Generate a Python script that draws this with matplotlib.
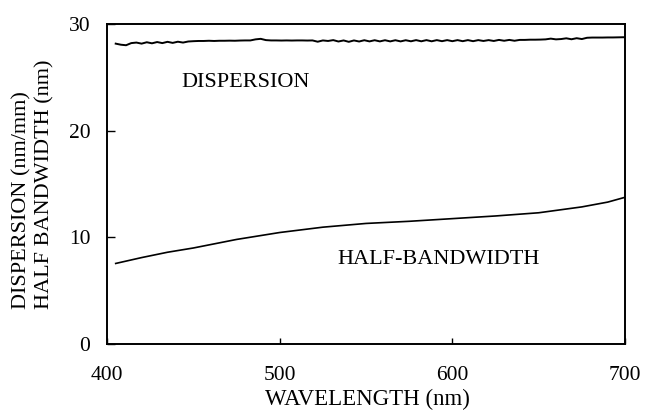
import numpy as np
import matplotlib
matplotlib.use("Agg")
import matplotlib.pyplot as plt

plt.rcParams['font.family'] = ['Liberation Serif', 'DejaVu Serif']

# Dispersion (nm/mm), read every 3 nm from 405 nm
disp_wl = np.arange(405, 700, 3)
disp_val = [
    28.15, 28.05, 28.00, 28.20, 28.25, 28.15, 28.28, 28.18, 28.30, 28.20,
    28.32, 28.22, 28.33, 28.25, 28.35, 28.38, 28.40, 28.40, 28.42, 28.40,
    28.42, 28.42, 28.43, 28.42, 28.44, 28.45, 28.45, 28.55, 28.60, 28.48,
    28.45, 28.45, 28.44, 28.45, 28.44, 28.45, 28.45, 28.44, 28.45, 28.33,
    28.45, 28.40, 28.48, 28.35, 28.45, 28.32, 28.45, 28.35, 28.47, 28.36,
    28.47, 28.36, 28.47, 28.36, 28.47, 28.36, 28.47, 28.37, 28.48, 28.37,
    28.48, 28.37, 28.48, 28.38, 28.48, 28.38, 28.48, 28.38, 28.48, 28.38,
    28.48, 28.40, 28.48, 28.40, 28.50, 28.42, 28.50, 28.42, 28.50, 28.50,
    28.52, 28.52, 28.53, 28.55, 28.62, 28.55, 28.58, 28.65, 28.56, 28.66,
    28.58, 28.70, 28.72, 28.72, 28.72, 28.73, 28.73, 28.74, 28.75,
]
disp_wl = list(disp_wl) + [700]
disp_val = disp_val + [28.75]

# Half bandwidth (nm)
hb_wl = [405, 420, 435, 450, 475, 500, 525, 550, 575, 600, 625, 650, 675, 690, 700]
hb_val = [7.55, 8.1, 8.6, 9.0, 9.8, 10.45, 10.95, 11.3, 11.5, 11.75, 12.0, 12.3, 12.85, 13.3, 13.75]

xticks = [400, 500, 600, 700]
yticks = [0, 10, 20, 30]

fig = plt.figure(figsize=(6.45, 4.12), dpi=100)
ax = fig.add_axes([0.166, 0.165, 0.803, 0.777])

ax.plot(disp_wl, disp_val, color='black', lw=1.4)
ax.plot(hb_wl, hb_val, color='black', lw=1.2)

ax.set_xlim(400, 700)
ax.set_ylim(0, 30)
ax.set_xticks(xticks)
ax.set_yticks(yticks)
ax.tick_params(axis='x', direction='in', length=4, width=1, pad=16, labelsize=15.5)
ax.tick_params(axis='y', direction='in', length=6, width=1, pad=12, labelsize=15.5)
for s in ax.spines.values():
    s.set_linewidth(1.4)

ax.text(480, 24.5, 'DISPERSION', fontsize=16, ha='center', va='center')
ax.text(592, 7.9, 'HALF-BANDWIDTH', fontsize=16, ha='center', va='center')

fig.text(367 / 645, 1 - 399 / 412, 'WAVELENGTH (nm)', fontsize=16.5, ha='center', va='center')
fig.text(22 / 645, 1 - 309 / 412, 'DISPERSION (nm/mm)', fontsize=16, ha='center', va='bottom', rotation=90)
fig.text(45 / 645, 1 - 309 / 412, 'HALF BANDWIDTH (nm)', fontsize=16, ha='center', va='bottom', rotation=90)

fig.savefig('out.png', dpi=100)
